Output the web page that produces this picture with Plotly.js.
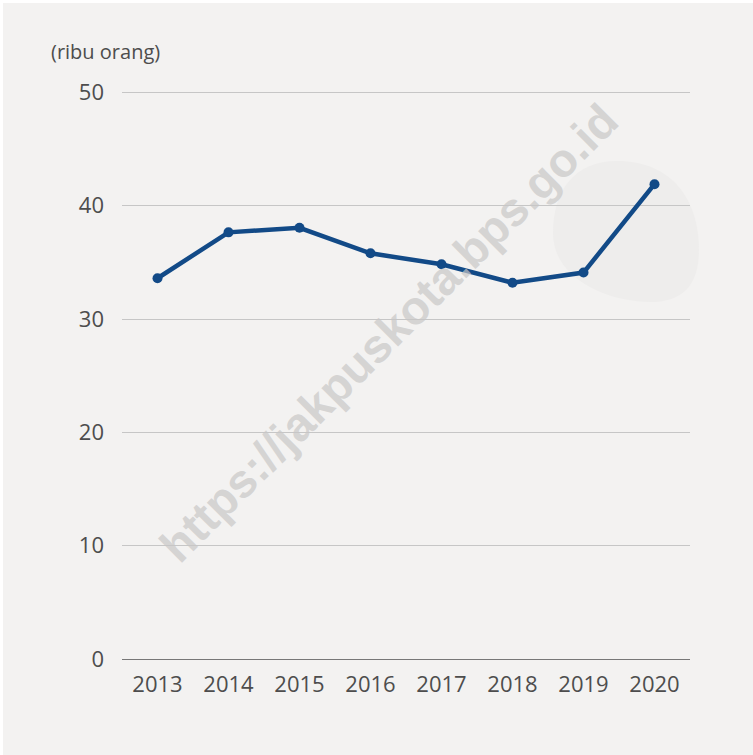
<!DOCTYPE html>
<html>
<head>
<meta charset="utf-8">
<script src="https://cdn.plot.ly/plotly-3.0.1.min.js"></script>
<style>
html,body{margin:0;padding:0;background:#ffffff;}
#chart{position:absolute;left:3px;top:3px;width:750px;height:752px;}
</style>
</head>
<body>
<div id="chart"></div>
<script>
const years = ['2013','2014','2015','2016','2017','2018','2019','2020'];
const values = [33.6, 37.65, 38.05, 35.8, 34.83, 33.2, 34.1, 41.9];
const yTicks = [0, 10, 20, 30, 40, 50];
const unitLabel = '(ribu orang)';
const watermark = 'https://jakpuskota.bps.go.id';

const trace = {
  x: years, y: values, type: 'scatter', mode: 'lines+markers',
  line: {color: '#124a87', width: 4.5},
  marker: {color: '#124a87', size: 10},
  hoverinfo: 'x+y'
};

const tickFont = {family: 'Open Sans, sans-serif', size: 22, color: '#4d4d4d'};

const layout = {
  width: 750, height: 752,
  margin: {l: 119, r: 63, t: 86, b: 96},
  paper_bgcolor: '#f3f2f1', plot_bgcolor: '#f3f2f1',
  font: {family: 'Open Sans, sans-serif', size: 18, color: '#4d4d4d'},
  showlegend: false,
  xaxis: {
    type: 'category', range: [-0.5, 7.5], showgrid: false, zeroline: false,
    showline: false, ticks: '', ticklabelstandoff: 10, fixedrange: true,
    tickfont: tickFont
  },
  yaxis: {
    range: [0, 50.3], tickvals: yTicks, showgrid: true, gridcolor: '#c6c6c6', gridwidth: 1,
    zeroline: true, zerolinecolor: '#777777', zerolinewidth: 1, showline: false,
    ticks: '', ticklabelstandoff: 17, fixedrange: true,
    tickfont: tickFont
  },
  shapes: [{
    type: 'path', xref: 'paper', yref: 'paper', layer: 'below',
    path: 'M 0.8715 0.8737 C 0.9683 0.8737, 1.0158 0.8053, 1.0158 0.7175 ' +
          'C 1.0158 0.6386, 0.9683 0.6263, 0.9296 0.6263 ' +
          'C 0.8592 0.6263, 0.7588 0.6649, 0.7588 0.7474 ' +
          'C 0.7588 0.8228, 0.7975 0.8737, 0.8715 0.8737 Z',
    fillcolor: '#eeedec', line: {width: 0}
  }],
  annotations: [
    {text: unitLabel, xref: 'paper', yref: 'paper', x: -0.128, y: 1.0664,
     xanchor: 'left', yanchor: 'middle', showarrow: false,
     font: {family: 'Open Sans, sans-serif', size: 20, color: '#4d4d4d'}},
    {text: '<b>' + watermark + '</b>', xref: 'paper', yref: 'paper', x: 0.470, y: 0.572,
     xanchor: 'center', yanchor: 'middle', showarrow: false, textangle: -45,
     font: {family: 'Liberation Sans, Arial, sans-serif', size: 47, color: 'rgba(200,199,198,0.7)'}}
  ]
};

Plotly.newPlot('chart', [trace], layout, {displayModeBar: false, staticPlot: true});
</script>
</body>
</html>
